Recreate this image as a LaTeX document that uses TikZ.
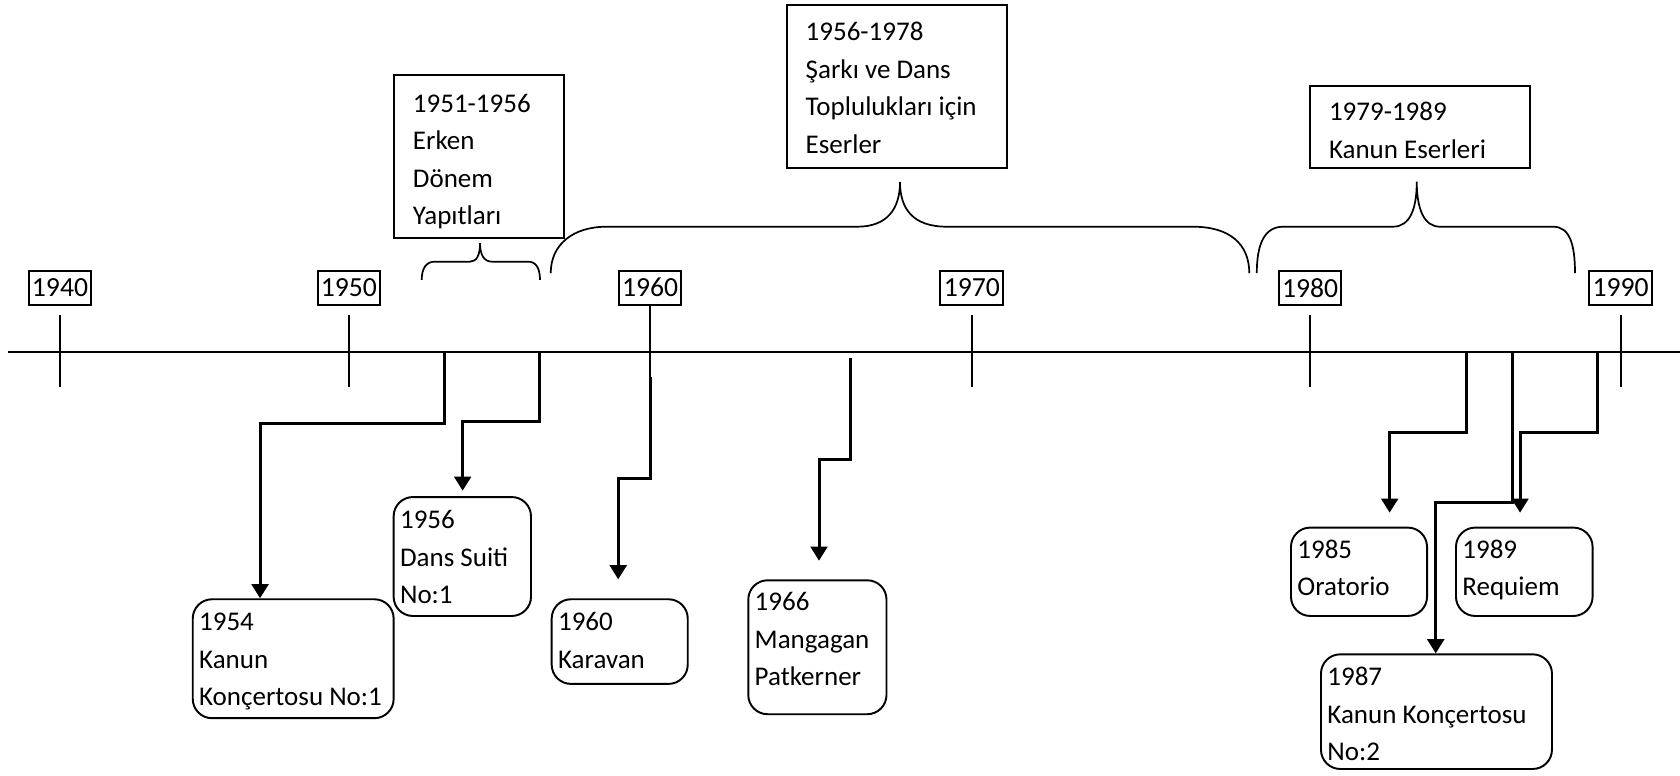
\documentclass[tikz,border=0pt]{standalone}
\usepackage{fontspec}
\setmainfont{Carlito}
\usetikzlibrary{arrows.meta}
% #1 width px, #2 height px, #3 first baseline px, #4 left inset px, #5 text
\newcommand\boxtext[5]{\parbox[c][\dimexpr#2pt/2\relax][t]{\dimexpr#1pt/2\relax}{\fontsize{12.6pt}{17.5pt}\selectfont\raggedright\leftskip=\dimexpr#4pt/2\relax\relax\rule{0pt}{\dimexpr#3pt/2\relax}#5}}
\tikzset{
  thinline/.style={line width=0.9pt},
  bracepath/.style={line width=0.8pt},
  conn/.style={line width=1.4pt, -{Triangle[length=6.6pt,width=7.8pt]}},
  yearbox/.style={draw, line width=0.9pt, inner sep=0pt, minimum width=29.25pt, minimum height=16pt, font=\fontsize{12.9pt}{14pt}\selectfont},
  pbox/.style={draw, line width=0.9pt, inner sep=0pt, anchor=north west},
  rbox/.style={pbox, rounded corners=9pt},
}
\begin{document}
\begin{tikzpicture}[x=0.5pt,y=-0.5pt]
\useasboundingbox (0,0) rectangle (1568,724);

% axis
\coordinate (axL) at (7.8,328.2);
\coordinate (axR) at (1568,328.2);
\draw[thinline] (axL) -- (axR);

% year labels
\node[yearbox] (y40) at (56,268.5) {1940};
\node[yearbox] (y50) at (325.7,268.5) {1950};
\node[yearbox] (y60) at (606.7,268.5) {1960};
\node[yearbox] (y70) at (907,268.5) {1970};
\node[yearbox] (y80) at (1222.7,268.5) {1980};
\node[yearbox] (y90) at (1512.6,268.5) {1990};

% ticks
\foreach \n in {y40,y50,y70,y80,y90}{
  \draw[thinline] (\n.south |- 0,294) -- (\n.south |- 0,361.5);
}
\draw[thinline] (y60.south) -- (y60.south |- 0,361.5);

% period boxes
\node[pbox] (p1) at (367,69) {\boxtext{158.8}{152}{35}{17.5}{1951-1956\\Erken\\Dönem\\Yapıtları}};
\node[pbox] (p2) at (733.6,3.7) {\boxtext{205.4}{152}{33.6}{17.5}{1956-1978\\Şarkı ve Dans\\Toplulukları için\\Eserler}};
\node[pbox] (p3) at (1222,79.3) {\boxtext{204.8}{76.3}{32.5}{17.5}{1979-1989\\Kanun Eserleri}};

% braces
\draw[bracepath] (393.6,261.3) .. controls (393.6,250) and (398,244.2) .. (406,244.2)
  -- (438.7,244.2) .. controls (445,244.2) and (448,238) .. (448,227)
  .. controls (448,238) and (452,244.2) .. (459,244.2)
  -- (493,244.2) .. controls (500,244.2) and (504,250) .. (504,261.3);
\draw[bracepath] (514,255) .. controls (514,228) and (535,211.6) .. (566,211.6)
  -- (800,211.6) .. controls (828,211.6) and (840,195) .. (840,169.7)
  .. controls (840,195) and (852,211.6) .. (884,211.6)
  -- (1113.6,211.6) .. controls (1148,211.6) and (1166,228) .. (1166,255);
\draw[bracepath] (1173,255) .. controls (1173,228) and (1180,211.6) .. (1197.6,211.6)
  -- (1300,211.6) .. controls (1316,211.6) and (1322.3,195) .. (1322.3,169.5)
  .. controls (1322.3,195) and (1329,211.6) .. (1344,211.6)
  -- (1449.7,211.6) .. controls (1465,211.6) and (1470,228) .. (1470,255);

% work boxes
\node[rbox] (b54) at (179,558.4) {\boxtext{187.5}{111}{29.5}{6}{1954\\Kanun\\Konçertosu No:1}};
\node[rbox] (b56) at (366.5,463) {\boxtext{128.2}{111}{29.5}{6}{1956\\Dans Suiti\\No:1}};
\node[rbox] (b60) at (514,558.4) {\boxtext{127}{79}{29.5}{6}{1960\\Karavan}};
\node[rbox] (b66) at (697.5,540.7) {\boxtext{129}{125}{28.5}{6}{1966\\Mangagan\\Patkerner}};
\node[rbox] (b85) at (1204,491.5) {\boxtext{127}{82.5}{28.5}{6}{1985\\Oratorio}};
\node[rbox] (b89) at (1358,491.5) {\boxtext{127.5}{82.5}{28.5}{6}{1989\\Requiem}};
\node[rbox] (b87) at (1232,609.8) {\boxtext{215.6}{107}{29.5}{6}{1987\\Kanun Konçertosu\\No:2}};

% connector start / end points
\coordinate (s54) at (415.3,328.2);  \coordinate (e54) at (242.7,558.4);
\coordinate (s56) at (503.4,328.2);  \coordinate (e56) at (431.8,458);
\coordinate (s60) at (606.7,351.6);  \coordinate (e60) at (577,540.7);
\coordinate (s66) at (794,334.4);    \coordinate (e66) at (764.4,523.3);
\coordinate (s85) at (1369,328.2);   \coordinate (e85) at (1297,478.5);
\coordinate (s87) at (1411.5,328.2); \coordinate (e87) at (1340,609.8);
\coordinate (s89) at (1491,328.2);   \coordinate (e89) at (1418.7,478.5);

\draw[conn] (s54) -- (s54 |- 0,395.7) -| (e54);
\draw[conn] (s56) -- (s56 |- 0,393.6) -| (e56);
\draw[conn] (s60) -- (s60 |- 0,446.4) -| (e60);
\draw[conn] (s66) -- (s66 |- 0,428.7) -| (e66);
\draw[conn] (s85) -- (s85 |- 0,403.8) -| (e85);
\draw[conn] (s87) -- (s87 |- 0,468.8) -| (e87);
\draw[conn] (s89) -- (s89 |- 0,403.8) -| (e89);
\end{tikzpicture}
\end{document}
